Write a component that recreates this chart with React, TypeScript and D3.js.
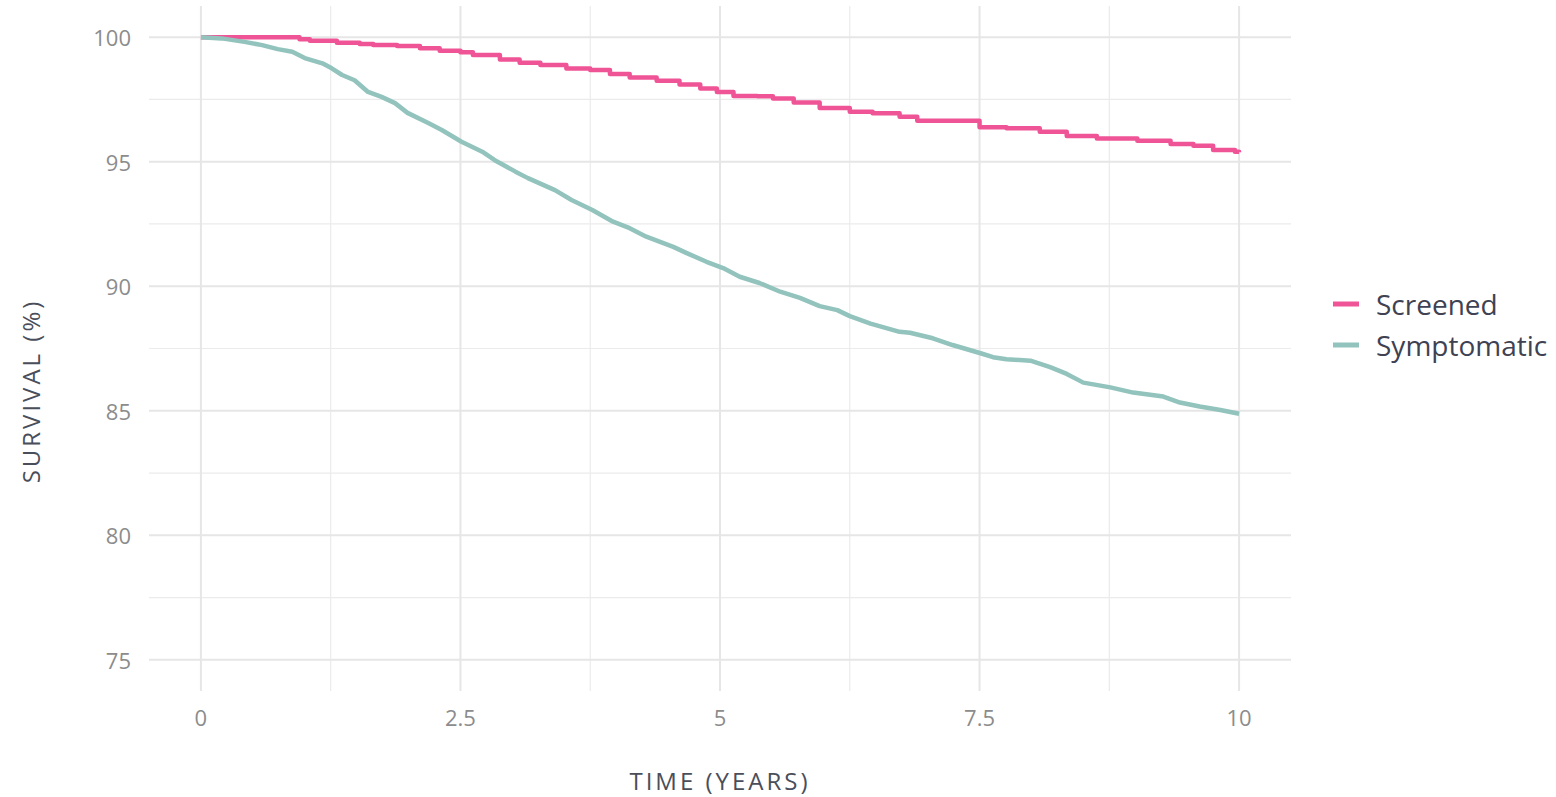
import React from "react";
import * as d3 from "d3";

const screenedTime = [0, 0.92, 0.95, 1.05, 1.31, 1.53, 1.66, 1.89, 2.11, 2.3, 2.5, 2.62, 2.88, 3.07, 3.27, 3.52, 3.75, 3.94, 4.13, 4.39, 4.61, 4.81, 4.97, 5.13, 5.36, 5.51, 5.71, 5.96, 6.25, 6.47, 6.73, 6.9, 7.25, 7.5, 7.76, 8.08, 8.34, 8.63, 9.02, 9.34, 9.56, 9.75, 9.96, 10];
const screenedSurv = [100, 100, 99.92, 99.85, 99.77, 99.72, 99.68, 99.64, 99.55, 99.45, 99.39, 99.28, 99.1, 98.97, 98.88, 98.74, 98.68, 98.52, 98.38, 98.25, 98.1, 97.94, 97.8, 97.64, 97.63, 97.54, 97.38, 97.16, 97.0, 96.94, 96.8, 96.64, 96.64, 96.38, 96.34, 96.2, 96.03, 95.93, 95.84, 95.71, 95.64, 95.47, 95.4, 95.38];

const symptTime = [0, 0.2, 0.42, 0.59, 0.74, 0.88, 1.0, 1.17, 1.26, 1.36, 1.48, 1.61, 1.74, 1.87, 1.99, 2.19, 2.32, 2.51, 2.71, 2.83, 3.03, 3.15, 3.41, 3.57, 3.77, 3.97, 4.13, 4.29, 4.55, 4.68, 4.87, 5.03, 5.19, 5.38, 5.58, 5.77, 5.96, 6.13, 6.25, 6.45, 6.73, 6.83, 7.05, 7.24, 7.51, 7.63, 7.76, 7.99, 8.18, 8.34, 8.5, 8.76, 8.98, 9.27, 9.43, 9.62, 9.82, 10];
const symptSurv = [100, 99.95, 99.81, 99.68, 99.52, 99.41, 99.16, 98.95, 98.75, 98.48, 98.27, 97.8, 97.6, 97.35, 96.96, 96.55, 96.27, 95.8, 95.4, 95.06, 94.6, 94.34, 93.86, 93.46, 93.06, 92.59, 92.33, 91.99, 91.58, 91.33, 90.98, 90.73, 90.38, 90.13, 89.78, 89.53, 89.2, 89.04, 88.8, 88.5, 88.17, 88.13, 87.91, 87.64, 87.31, 87.15, 87.07, 87.01, 86.75, 86.48, 86.13, 85.94, 85.73, 85.57, 85.33, 85.17, 85.03, 84.88];

const xMajor = [0, 2.5, 5, 7.5, 10];
const xMinor = [1.25, 3.75, 6.25, 8.75];
const yMajor = [75, 80, 85, 90, 95, 100];
const yMinor = [77.5, 82.5, 87.5, 92.5, 97.5];

const seriesNames = ["Screened", "Symptomatic"];
const seriesColors = ["#ef5596", "#92c3bd"];

const FONT = "'Open Sans', sans-serif";

export default function App() {
  const W = 1556, H = 797;
  const x = d3.scaleLinear().domain([-0.5, 10.5]).range([149, 1291]);
  const y = d3.scaleLinear().domain([73.75, 101.25]).range([691, 6]);
  const [x0, x1] = x.range();
  const [yb, yt] = y.range();

  const mk = (t: number[], v: number[], curve: d3.CurveFactory) =>
    d3.line<number>().x((_, i) => x(t[i])).y((_, i) => y(v[i])).curve(curve)(t.map((_, i) => i)) || "";

  const data = [
    { t: screenedTime, v: screenedSurv, curve: d3.curveStepAfter },
    { t: symptTime, v: symptSurv, curve: d3.curveLinear },
  ];

  return (
    <svg width={W} height={H} style={{ display: "block", position: "absolute", left: 0, top: 0 }}>
      <g>
        {yMinor.map((v) => (
          <line key={"ym" + v} x1={x0} x2={x1} y1={y(v)} y2={y(v)} stroke="#ebebeb" strokeWidth={1.2} />
        ))}
        {xMinor.map((v) => (
          <line key={"xm" + v} x1={x(v)} x2={x(v)} y1={yb} y2={yt} stroke="#ebebeb" strokeWidth={1.2} />
        ))}
        {yMajor.map((v) => (
          <line key={"yM" + v} x1={x0} x2={x1} y1={y(v)} y2={y(v)} stroke="#e6e6e6" strokeWidth={2} />
        ))}
        {xMajor.map((v) => (
          <line key={"xM" + v} x1={x(v)} x2={x(v)} y1={yb} y2={yt} stroke="#e6e6e6" strokeWidth={2} />
        ))}
      </g>
      {data.map((d, i) => (
        <path key={i} d={mk(d.t, d.v, d.curve)} fill="none" stroke={seriesColors[i]} strokeWidth={4.5} strokeLinejoin="round" />
      ))}
      <g fontFamily={FONT} fontSize={22} fill="#8c8c8c">
        {yMajor.map((v) => (
          <text key={"yl" + v} x={131} y={y(v)} textAnchor="end" dominantBaseline="central">
            {v}
          </text>
        ))}
        {xMajor.map((v) => (
          <text key={"xl" + v} x={x(v)} y={717} textAnchor="middle" dominantBaseline="central">
            {v}
          </text>
        ))}
      </g>
      <text x={720} y={780} textAnchor="middle" dominantBaseline="central" fontFamily={FONT} fontSize={24} letterSpacing={3} fill="#4a4e5a">
        TIME (YEARS)
      </text>
      <text transform={`translate(30,391) rotate(-90)`} textAnchor="middle" dominantBaseline="central" fontFamily={FONT} fontSize={24} letterSpacing={3} fill="#4a4e5a">
        SURVIVAL (%)
      </text>
      {seriesNames.map((n, i) => (
        <g key={n} transform={`translate(1333,${i === 0 ? 304 : 345})`}>
          <line x1={0} x2={26} y1={0} y2={0} stroke={seriesColors[i]} strokeWidth={5} />
          <text x={43} y={0} dominantBaseline="central" fontFamily={FONT} fontSize={28} fill="#3e4252">
            {n}
          </text>
        </g>
      ))}
    </svg>
  );
}
